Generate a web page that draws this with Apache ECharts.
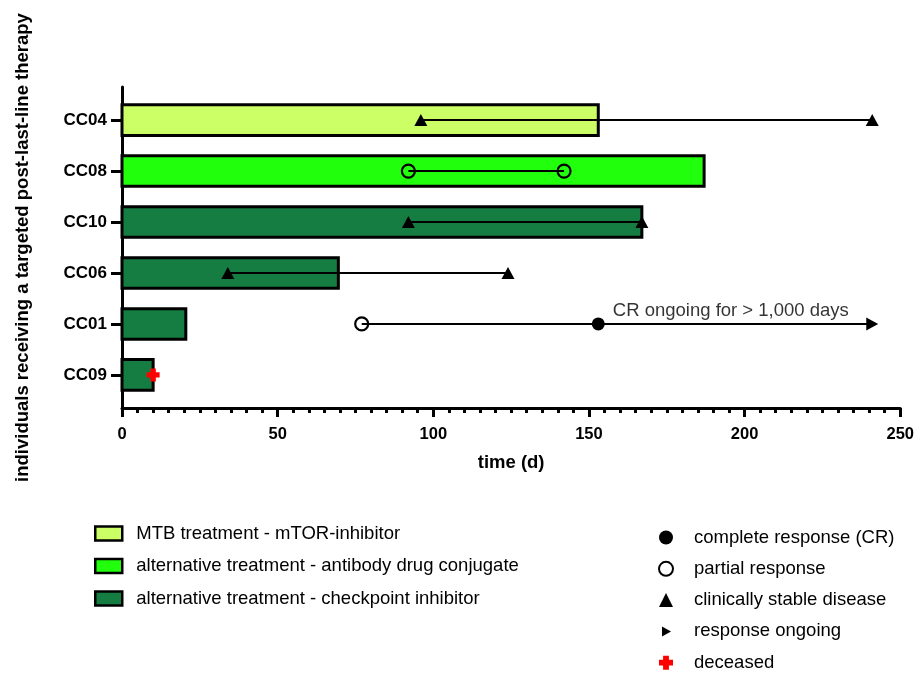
<!DOCTYPE html>
<html>
<head>
<meta charset="utf-8">
<script src="https://cdn.jsdelivr.net/npm/echarts@6/dist/echarts.min.js"></script>
<style>
  html, body { margin: 0; padding: 0; background: #fff; }
  #main { width: 917px; height: 673px; }
</style>
</head>
<body>
<div id="main"></div>
<script>
// 患者（从上到下）
var patients = ['CC04', 'CC08', 'CC10', 'CC06', 'CC01', 'CC09'];
// 治疗时长 (d)
var therapyDays = [153, 187, 167, 69.5, 20.5, 10];
// 治疗类型
var therapyType = ['mtor', 'adc', 'cpi', 'cpi', 'cpi', 'cpi'];
var therapyNames = {
    mtor: 'MTB treatment - mTOR-inhibitor',
    adc: 'alternative treatment - antibody drug conjugate',
    cpi: 'alternative treatment - checkpoint inhibitor'
};
var therapyColors = { mtor: '#ccff66', adc: '#22ff0c', cpi: '#167d42' };

// 反应区间（连线）
var responseStart = [96, 92, 92, 34, 77, null];
var responseEnd = [241, 142, 167, 124, 241, null];

// 标记点 [患者, 天数]
var completeResponse = [['CC01', 153]];
var partialResponse = [['CC08', 92], ['CC08', 142], ['CC01', 77]];
var stableDisease = [['CC04', 96], ['CC04', 241], ['CC10', 92], ['CC10', 167], ['CC06', 34], ['CC06', 124]];
var responseOngoing = [['CC01', 241]];
var deceased = [['CC09', 10]];

// 注释
var noteText = 'CR ongoing for > 1,000 days';
var notePos = [['CC01', 157.5, 0.26]];

var xTicks = [0, 50, 100, 150, 200, 250];

// 患者名 -> y 值
function yOf(name) {
    return patients.length - patients.indexOf(name);
}
function toPoints(list) {
    return list.map(function (p) { return [p[1], yOf(p[0])]; });
}

var FONT = 'Liberation Sans, Arial, sans-serif';

var barSeries = [];
['mtor', 'adc', 'cpi'].forEach(function (t) {
    var data = [];
    for (var i = 0; i < patients.length; i++) {
        if (therapyType[i] === t) data.push([therapyDays[i], patients.length - i]);
    }
    barSeries.push({
        name: therapyNames[t],
        type: 'custom',
        z: 2,
        itemStyle: { color: therapyColors[t], borderColor: '#000', borderWidth: 2.5 },
        renderItem: function (params, api) {
            var s = api.coord([0, api.value(1)]);
            var e = api.coord([api.value(0), api.value(1)]);
            var h = api.size([0, 0.6])[1];
            return {
                type: 'rect',
                shape: { x: s[0], y: s[1] - h / 2, width: e[0] - s[0], height: h },
                style: { fill: therapyColors[t], stroke: '#000', lineWidth: 3 }
            };
        },
        data: data
    });
});

var lineData = [];
for (var i = 0; i < patients.length; i++) {
    if (responseStart[i] != null) lineData.push([responseStart[i], responseEnd[i], patients.length - i]);
}

var crossPath = 'path://M3.5,0 H8.5 V3.5 H12 V8.5 H8.5 V12 H3.5 V8.5 H0 V3.5 H3.5 Z';
var arrowPath = 'path://M0,0 L12,6.5 L0,13 Z';
// 图例里的小箭头（带留白）
var arrowLegendPath = 'path://M0,0 M14,14 M3,2 L12,7 L3,12 Z';

var myChart = echarts.init(document.getElementById('main'));
var option = {
    animation: false,
    textStyle: { fontFamily: FONT },
    grid: { left: 122, right: 16, top: 87, bottom: 265 },
    xAxis: {
        type: 'value',
        min: 0,
        max: 250,
        interval: 50,
        name: 'time (d)',
        nameLocation: 'middle',
        nameGap: 45,
        nameTextStyle: { fontSize: 18.5, fontWeight: 'bold', color: '#000', fontFamily: FONT },
        axisLine: { show: true, lineStyle: { color: '#000', width: 3 } },
        axisTick: { show: true, length: 9, lineStyle: { color: '#000', width: 3 } },
        minorTick: { show: true, splitNumber: 10, length: 5, lineStyle: { color: '#000', width: 3 } },
        splitLine: { show: false },
        axisLabel: {
            margin: 18, fontSize: 16.5, fontWeight: 'bold', color: '#000', fontFamily: FONT,
            customValues: xTicks
        }
    },
    yAxis: {
        type: 'value',
        min: 0.35,
        max: 6.65,
        name: 'individuals receiving a targeted post-last-line therapy',
        nameLocation: 'middle',
        nameGap: 90,
        nameTextStyle: { fontSize: 18.5, fontWeight: 'bold', color: '#000', fontFamily: FONT },
        axisLine: { show: true, lineStyle: { color: '#000', width: 3 } },
        axisTick: { show: true, length: 11, lineStyle: { color: '#000', width: 3 }, customValues: [1, 2, 3, 4, 5, 6] },
        splitLine: { show: false },
        axisLabel: {
            margin: 15, fontSize: 17, fontWeight: 'bold', color: '#000', fontFamily: FONT,
            customValues: [1, 2, 3, 4, 5, 6],
            formatter: function (v) { return patients[patients.length - Math.round(v)]; }
        }
    },
    legend: [
        {
            orient: 'vertical',
            left: 94,
            top: 524,
            padding: 0,
            icon: 'rect',
            itemWidth: 27,
            itemHeight: 14,
            itemGap: 13.5,
            itemStyle: { borderColor: '#000', borderWidth: 2.5 },
            textStyle: { fontSize: 18.5, lineHeight: 18, color: '#000', fontFamily: FONT, padding: [0, 0, 0, 9] },
            data: [therapyNames.mtor, therapyNames.adc, therapyNames.cpi]
        },
        {
            orient: 'vertical',
            left: 658,
            top: 528,
            bottom: 0,
            padding: 0,
            itemWidth: 14,
            itemHeight: 14,
            itemGap: 12.3,
            textStyle: { fontSize: 18.5, lineHeight: 18, color: '#000', fontFamily: FONT, padding: [0, 0, 0, 16] },
            data: [
                'complete response (CR)',
                'partial response',
                'clinically stable disease',
                { name: 'response ongoing', icon: arrowLegendPath },
                'deceased'
            ]
        }
    ],
    series: barSeries.concat([
        {
            name: 'response',
            type: 'custom',
            z: 3,
            renderItem: function (params, api) {
                var s = api.coord([api.value(0), api.value(2)]);
                var e = api.coord([api.value(1), api.value(2)]);
                return {
                    type: 'line',
                    shape: { x1: s[0], y1: s[1], x2: e[0], y2: e[1] },
                    style: { stroke: '#000', lineWidth: 2 }
                };
            },
            data: lineData
        },
        {
            name: 'complete response (CR)',
            type: 'scatter',
            z: 5,
            symbol: 'circle',
            symbolSize: 13,
            itemStyle: { color: '#000', opacity: 1 },
            data: toPoints(completeResponse)
        },
        {
            name: 'partial response',
            type: 'scatter',
            z: 5,
            symbol: 'circle',
            symbolSize: 13,
            itemStyle: { color: 'rgba(0,0,0,0)', borderColor: '#000', borderWidth: 2.2, opacity: 1 },
            data: toPoints(partialResponse)
        },
        {
            name: 'clinically stable disease',
            type: 'scatter',
            z: 5,
            symbol: 'triangle',
            symbolSize: [13, 12],
            itemStyle: { color: '#000', opacity: 1 },
            data: toPoints(stableDisease)
        },
        {
            name: 'response ongoing',
            type: 'scatter',
            z: 5,
            symbol: arrowPath,
            symbolSize: [12, 13],
            itemStyle: { color: '#000', opacity: 1 },
            data: toPoints(responseOngoing)
        },
        {
            name: 'deceased',
            type: 'scatter',
            z: 6,
            symbol: crossPath,
            symbolSize: 13,
            itemStyle: { color: '#ff0000', opacity: 1 },
            data: toPoints(deceased)
        },
        {
            name: 'note',
            type: 'scatter',
            z: 6,
            symbolSize: 1,
            itemStyle: { color: 'rgba(0,0,0,0)' },
            label: {
                show: true,
                position: 'right',
                distance: 0,
                formatter: noteText,
                fontSize: 18.5,
                color: '#000',
                fontFamily: FONT
            },
            data: notePos.map(function (p) { return [p[1], yOf(p[0]) + p[2]]; })
        }
    ])
};
myChart.setOption(option, true);
</script>
</body>
</html>
